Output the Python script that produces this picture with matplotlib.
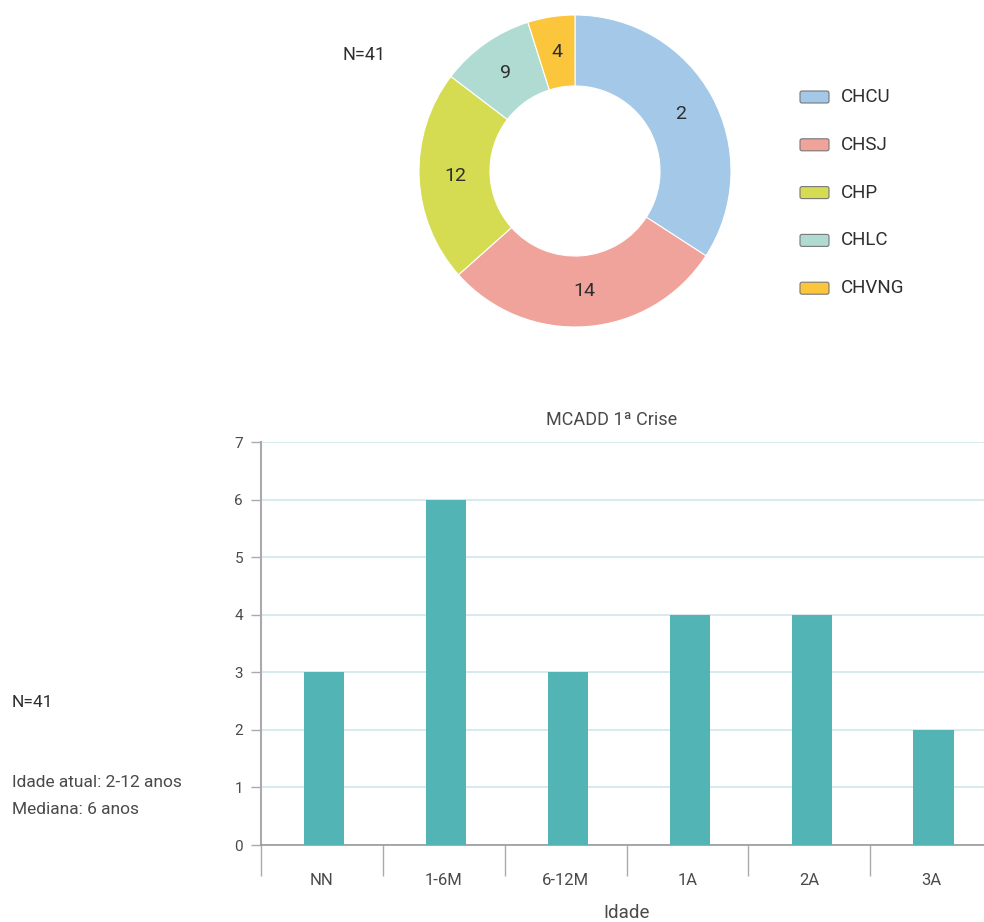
import numpy as np
import matplotlib
matplotlib.use("Agg")
import matplotlib.pyplot as plt
from matplotlib.patches import FancyBboxPatch

plt.rcParams["font.family"] = ["Roboto", "DejaVu Sans"]

# donut: doentes por centro
centros = ["CHCU", "CHSJ", "CHP", "CHLC", "CHVNG"]
doentes = [14, 12, 9, 4, 2]
cores_centro = ["#a3c8e8", "#f0a39a", "#d6dc52", "#afdbd3", "#fbc63c"]

# barras: idade na 1a crise
idades = ["NN", "1-6M", "6-12M", "1A", "2A", "3A"]
n_crise = [3, 6, 3, 4, 4, 2]
yticks = list(range(0, 8))

W, H = 984, 922
TXT = "#2e2e2e"
TXT2 = "#4a4a4a"

fig = plt.figure(figsize=(W / 100, H / 100), dpi=100)


def box(x0, y0, x1, y1):
    # pixel box (top-left origin) -> figure fraction rect
    return [x0 / W, (H - y1) / H, (x1 - x0) / W, (y1 - y0) / H]


# ---- donut ----
cx, cy, r = 575, 171, 156
pad = 1.05
axp = fig.add_axes(box(cx - r * pad, cy - r * pad, cx + r * pad, cy + r * pad))
wedges, _ = axp.pie(doentes, colors=cores_centro, startangle=90, counterclock=False,
                    radius=1, wedgeprops=dict(width=0.455, edgecolor="white", linewidth=0.8))
axp.set_xlim(-pad, pad)
axp.set_ylim(-pad, pad)
axp.set_aspect("equal")
# os rótulos saem deslocados uma fatia
rotulos = np.roll(doentes, 1)
for w, v in zip(wedges, rotulos):
    a = np.deg2rad((w.theta1 + w.theta2) / 2)
    axp.text(0.77 * np.cos(a), 0.77 * np.sin(a), str(v), ha="center", va="center",
             fontsize=14, color=TXT)

# ---- barras ----
axb = fig.add_axes(box(261, 442, 992, 845))
x = np.arange(len(idades))
axb.bar(x + 0.02, n_crise, width=0.33, color="#52b4b4", zorder=3)
axb.set_xlim(-0.5, len(idades) - 0.5)
axb.set_ylim(0, 7)
axb.set_yticks(yticks)
axb.set_yticklabels([str(t) for t in yticks], fontsize=11, color=TXT2)
axb.grid(axis="y", color="#cfe6ea", linewidth=1.2, zorder=0)
axb.set_xticks(x)
axb.set_xticklabels(idades, fontsize=12, color=TXT2)
axb.set_xticks(np.arange(len(idades) + 1) - 0.5, minor=True)
axb.tick_params(axis="x", which="major", length=0, pad=20)
axb.tick_params(axis="x", which="minor", length=22, color="#aaaaaa", width=1)
axb.tick_params(axis="y", length=7, color="#aaaaaa", width=1, pad=6)
for s in ("top", "right"):
    axb.spines[s].set_visible(False)
axb.spines["left"].set_color("#aaaaaa")
axb.spines["left"].set_linewidth(1.5)
axb.spines["bottom"].set_color("#999999")
axb.spines["bottom"].set_linewidth(1.2)
axb.set_xlabel("Idade", fontsize=13.5, color=TXT2, labelpad=12)

# ---- textos e legenda em pixels ----
ov = fig.add_axes([0, 0, 1, 1])
ov.set_xlim(0, W)
ov.set_ylim(H, 0)
ov.axis("off")

ov.text(342, 55, "N=41", fontsize=13, color=TXT, va="center", ha="left")
ov.text(612, 420, "MCADD 1ª Crise", fontsize=13, color=TXT2, va="center", ha="center")
ov.text(12, 702, "N=41", fontsize=12.5, color=TXT, va="center")
ov.text(12, 782, "Idade atual: 2-12 anos", fontsize=12.5, color=TXT2, va="center")
ov.text(12, 809, "Mediana: 6 anos", fontsize=12.5, color=TXT2, va="center")

for i, (nome, cor) in enumerate(zip(centros, cores_centro)):
    yy = 97 + i * 47.8
    ov.add_patch(FancyBboxPatch((800, yy - 6), 29, 12, boxstyle="round,pad=0,rounding_size=2",
                                facecolor=cor, edgecolor="#777777", linewidth=0.8))
    ov.text(841, yy, nome, fontsize=13.5, color=TXT, va="center", ha="left")

fig.savefig("out.png", dpi=100)
